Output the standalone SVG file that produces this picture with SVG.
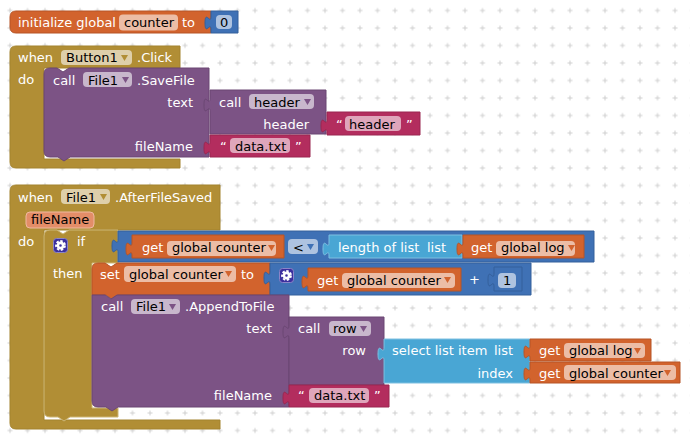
<svg xmlns="http://www.w3.org/2000/svg" width="690" height="441" viewBox="0 0 690 441">
<style>
text{font-family:"DejaVu Sans",sans-serif;font-size:13px;fill:#fff}
.e{text-anchor:end}
.d{fill:#000}
.gold{fill:#B18E35;stroke:#a3832f}
.ifb{fill:#B18E35;stroke:#cdb777}
.org{fill:#D2632D;stroke:#b65527}
.blu{fill:#3F71B5;stroke:#35609b}
.pur{fill:#7C5385;stroke:#6b4773}
.mag{fill:#B32D5E;stroke:#9a2751}
.sky{fill:#49A6D4;stroke:#7fc0e1}
.f{stroke:none;fill:#fff;fill-opacity:.58}
.a{stroke:none}
.gear{fill:#3b2f9e;stroke:#8b84c8}
.cog{fill:none;stroke:#fff;stroke-width:2.6}
.teeth{fill:none;stroke:#fff;stroke-width:2;stroke-dasharray:2.4 1.6}
</style>
<defs>
<pattern id="grid" width="17.5" height="17.5" patternUnits="userSpaceOnUse" x="1.25" y="1.75">
<path d="M8.75 6.25v5M6.25 8.75h5" stroke="#cfcfcf" stroke-width="1" fill="none"/>
</pattern>
<g id="mut"><rect class="gear" x=".5" y=".5" width="14" height="14" rx="3"/><circle class="cog" cx="7.5" cy="7.5" r="2.6"/><circle class="teeth" cx="7.5" cy="7.5" r="4.4"/></g>
</defs>
<rect width="690" height="441" fill="#fff"/>
<rect width="690" height="441" fill="url(#grid)"/>

<g id="init-counter">
<path class="org" d="M16 11H211V33H16q-6 0-6-6V17q0-6 6-6Z"/>
<rect class="f" x="119" y="14.500" width="59" height="16" rx="4"/>
<text x="18" y="27">initialize global</text><text class="d" x="124" y="27">counter</text><text x="182" y="27">to</text>
<path class="blu" d="M211 11H238V33H211V30c0-10-6 7-6-7s6 3 6-7Z"/>
<rect class="f" x="216" y="15" width="16" height="14" rx="4"/><text class="d" x="220" y="27">0</text>
</g>

<g id="when-button-click">
<path class="gold" d="M16 46H180V68H44V159H180V168H16q-6 0-6-6V52q0-6 6-6Z"/>
<rect class="f" x="61" y="50" width="71" height="15" rx="4"/>
<text x="18" y="62">when</text><text class="d" x="66" y="62">Button1</text><path class="a" fill="#B18E35" d="M121 55h7l-3.500 6Z"/><text x="137" y="62">.Click</text>
<text x="18" y="84">do</text>
</g>
<g id="call-savefile">
<path class="pur" d="M50 68H57l6 4 6-4H209V157H70l-6 4-6-4H50q-6 0-6-6V74q0-6 6-6Z"/>
<rect class="f" x="83" y="72" width="49" height="15" rx="4"/>
<text x="53" y="85">call</text><text class="d" x="88" y="85">File1</text><path class="a" fill="#7C5385" d="M122 77h7l-3.500 6Z"/><text x="137" y="85">.SaveFile</text>
<text class="e" x="193" y="107">text</text><text class="e" x="193" y="151">fileName</text>
</g>
<g id="call-header">
<path class="pur" d="M210 90H326V134H210V112c0-10-6 7-6-7s6 3 6-7Z"/>
<rect class="f" x="249" y="94" width="65" height="15" rx="4"/>
<text x="219" y="107">call</text><text class="d" x="254" y="107">header</text><path class="a" fill="#7C5385" d="M304 99h7l-3.500 6Z"/>
<text class="e" x="309" y="129">header</text>
</g>
<g id="text-header">
<path class="mag" d="M327 112H420V135H327V133c0-10-6 7-6-7s6 3 6-7Z"/>
<rect class="f" x="345" y="116" width="56" height="15" rx="4"/>
<text x="336" y="129">“</text><text class="d" x="349" y="129">header</text><text x="406" y="129">”</text>
</g>
<g id="text-savefile-name">
<path class="mag" d="M210 135H310V157H210V155c0-10-6 7-6-7s6 3 6-7Z"/>
<rect class="f" x="230" y="138" width="60" height="15" rx="4"/>
<text x="220" y="151">“</text><text class="d" x="235" y="151">data.txt</text><text x="295" y="151">”</text>
</g>

<g id="when-file-saved">
<path class="gold" d="M16 185H220V230H44V420H220V429H16q-6 0-6-6V191q0-6 6-6Z"/>
<rect class="f" x="61" y="189" width="49" height="15" rx="4"/>
<text x="18" y="202">when</text><text class="d" x="66" y="202">File1</text><path class="a" fill="#B18E35" d="M100 194h7l-3.500 6Z"/><text x="115" y="202">.AfterFileSaved</text>
<rect x="26" y="212" width="68" height="16" rx="4" fill="#E38D68" stroke="#efb9a0"/>
<text class="d" x="31" y="224">fileName</text>
<text x="18" y="246">do</text>
</g>
<g id="if-then">
<path class="ifb" d="M50 230H57l6 4 6-4H118V263H92V408H118V417H70l-6 4-6-4H50q-6 0-6-6V236q0-6 6-6Z"/>
<use href="#mut" x="53" y="238"/>
<text x="77" y="246">if</text><text x="53" y="278">then</text>
</g>
<g id="compare-less">
<path class="blu" d="M118 231H594V262H118V253c0-10-6 7-6-7s6 3 6-7Z"/>
<rect class="f" x="288" y="239" width="30" height="15" rx="4"/>
<text class="d" x="293" y="252">&lt;</text><path class="a" fill="#3F71B5" d="M307 244h7l-3.500 6Z"/>
</g>
<g id="get-counter-a">
<path class="org" d="M132 235H284V258H132V256c0-10-6 7-6-7s6 3 6-7Z"/>
<rect class="f" x="167" y="241" width="109" height="15" rx="4"/>
<text x="142" y="252">get</text><text class="d" x="172" y="252">global counter</text><path class="a" fill="#D2632D" d="M268 245h7l-3.500 6Z"/>
</g>
<g id="length-of-list">
<path class="sky" d="M329 235H462V258H329V256c0-10-6 7-6-7s6 3 6-7Z"/>
<text x="338" y="252">length of list</text><text x="427" y="252">list</text>
</g>
<g id="get-log-a">
<path class="org" d="M463 235H584V258H463V256c0-10-6 7-6-7s6 3 6-7Z"/>
<rect class="f" x="496" y="241" width="79" height="15" rx="4"/>
<text x="471" y="252">get</text><text class="d" x="501" y="252">global log</text><path class="a" fill="#D2632D" d="M568 245h7l-3.500 6Z"/>
</g>
<g id="set-counter">
<path class="org" d="M98 263H105l6 4 6-4H270V295H118l-6 4-6-4H92V269q0-6 6-6Z"/>
<rect class="f" x="124" y="266" width="112" height="16" rx="4"/>
<text x="100" y="279">set</text><text class="d" x="129" y="279">global counter</text><path class="a" fill="#D2632D" d="M225 271h7l-3.500 6Z"/><text x="241" y="279">to</text>
</g>
<g id="add-one">
<path class="blu" d="M270 263H531V295H270V285c0-10-6 7-6-7s6 3 6-7Z"/>
<use href="#mut" x="279" y="268"/>
<text x="469" y="284">+</text>
<path class="blu" d="M494 267H522V291H494V287c0-10-6 7-6-7s6 3 6-7Z"/>
<rect class="f" x="498" y="273" width="18" height="15" rx="4"/><text class="d" x="503" y="285">1</text>
</g>
<g id="get-counter-b">
<path class="org" d="M308 268H461V291H308V289c0-10-6 7-6-7s6 3 6-7Z"/>
<rect class="f" x="342" y="273" width="113" height="15" rx="4"/>
<text x="317" y="285">get</text><text class="d" x="347" y="285">global counter</text><path class="a" fill="#D2632D" d="M444 277h7l-3.500 6Z"/>
</g>
<g id="call-append">
<path class="pur" d="M92 295H105l6 4 6-4H289V407H118l-6 4-6-4H98q-6 0-6-6Z"/>
<rect class="f" x="131" y="299" width="49" height="15" rx="4"/>
<text x="101" y="311">call</text><text class="d" x="136" y="311">File1</text><path class="a" fill="#7C5385" d="M169 304h7l-3.500 6Z"/><text x="185" y="311">.AppendToFile</text>
<text class="e" x="272" y="333">text</text><text class="e" x="272" y="400">fileName</text>
</g>
<g id="call-row">
<path class="pur" d="M289 317H384V385H289V339c0-10-6 7-6-7s6 3 6-7Z"/>
<rect class="f" x="329" y="321" width="42" height="15" rx="4"/>
<text x="298" y="333">call</text><text class="d" x="333" y="333">row</text><path class="a" fill="#7C5385" d="M360 326h7l-3.500 6Z"/>
<text class="e" x="366" y="355">row</text>
</g>
<g id="select-list-item">
<path class="sky" d="M384 339H530V383H384V361c0-10-6 7-6-7s6 3 6-7Z"/>
<text x="392" y="355">select list item</text><text class="e" x="513" y="355">list</text><text class="e" x="513" y="378">index</text>
</g>
<g id="get-log-b">
<path class="org" d="M530 339H651V361H530V359c0-10-6 7-6-7s6 3 6-7Z"/>
<rect class="f" x="564" y="343" width="81" height="15" rx="4"/>
<text x="539" y="355">get</text><text class="d" x="569" y="355">global log</text><path class="a" fill="#D2632D" d="M634 348h7l-3.500 6Z"/>
</g>
<g id="get-counter-c">
<path class="org" d="M530 362H680V383H530V381c0-10-6 7-6-7s6 3 6-7Z"/>
<rect class="f" x="564" y="365" width="112" height="15" rx="4"/>
<text x="539" y="378">get</text><text class="d" x="569" y="378">global counter</text><path class="a" fill="#D2632D" d="M664 370h7l-3.500 6Z"/>
</g>
<g id="text-append-name">
<path class="mag" d="M289 385H389V407H289V405c0-10-6 7-6-7s6 3 6-7Z"/>
<rect class="f" x="309" y="388" width="60" height="15" rx="4"/>
<text x="298" y="400">“</text><text class="d" x="314" y="400">data.txt</text><text x="374" y="400">”</text>
</g>
</svg>
